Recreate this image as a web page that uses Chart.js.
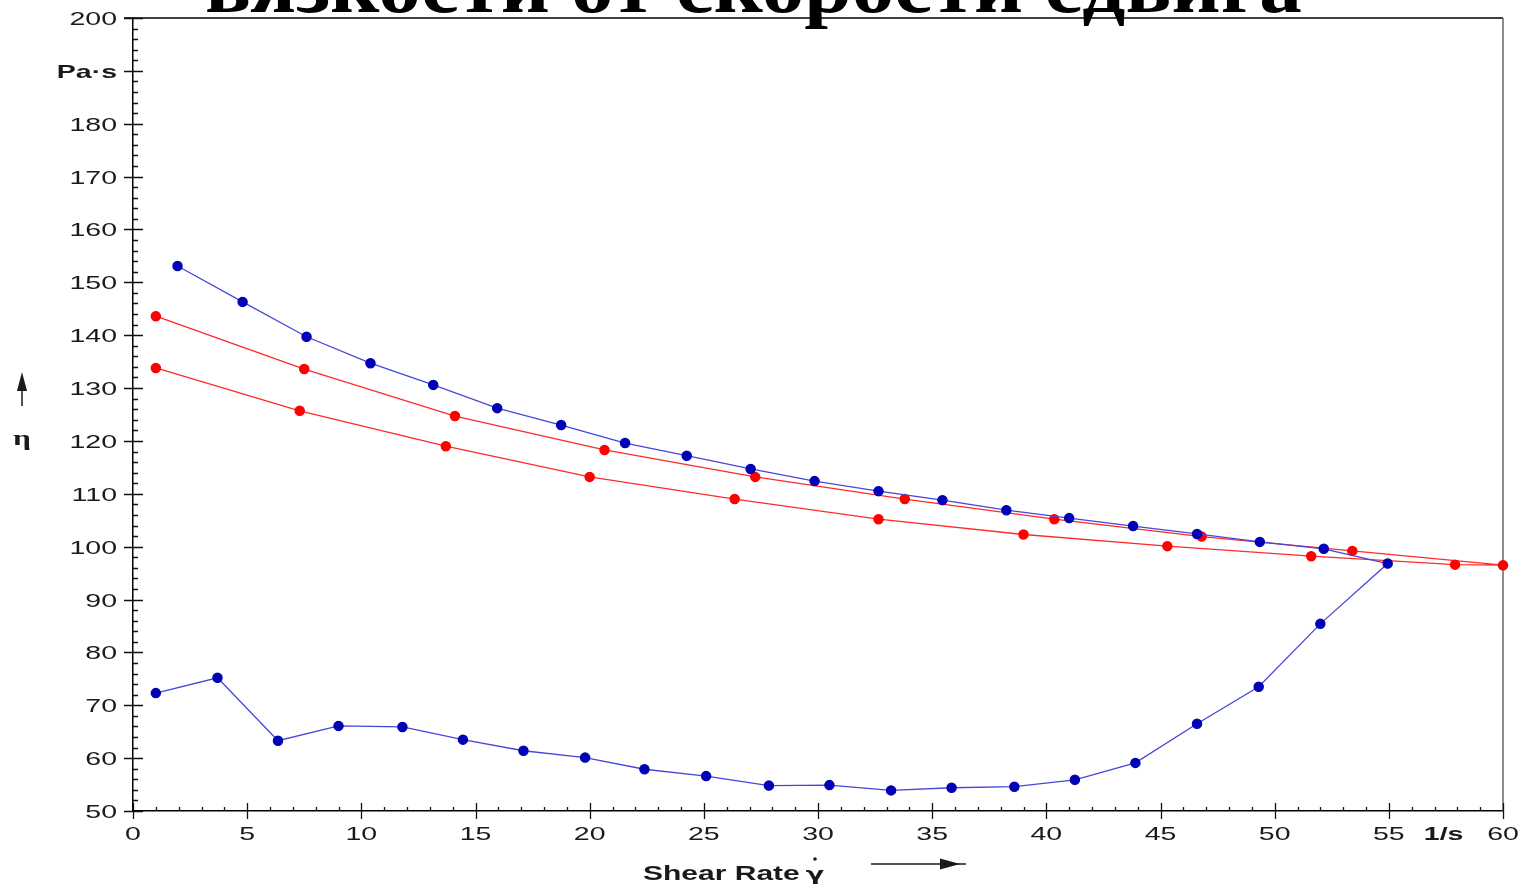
<!DOCTYPE html>
<html>
<head>
<meta charset="utf-8">
<script src="https://cdn.jsdelivr.net/npm/chart.js@4"></script>
<style>
  html, body { margin: 0; padding: 0; background: #fff; }
  canvas { display: block; }
</style>
</head>
<body>
<canvas id="viscosity" width="1526" height="885"></canvas>
<script>
// blue loop: up-curve (low) then down-curve (high)
const blueX = [1.0, 3.7, 6.35, 9.0, 11.8, 14.45, 17.1, 19.8, 22.4, 25.1, 27.85, 30.5, 33.2, 35.85, 38.6, 41.25, 43.9, 46.6, 49.3, 52.0, 54.95,
               52.15, 49.35, 46.6, 43.8, 41.0, 38.25, 35.45, 32.65, 29.85, 27.05, 24.25, 21.55, 18.75, 15.95, 13.15, 10.4, 7.6, 4.8, 1.95];
const blueY = [72.3, 75.2, 63.3, 66.1, 65.9, 63.5, 61.4, 60.1, 57.9, 56.6, 54.8, 54.9, 53.9, 54.4, 54.6, 55.9, 59.1, 66.5, 73.5, 85.4, 96.8,
               99.6, 100.9, 102.4, 103.9, 105.4, 106.9, 108.8, 110.5, 112.4, 114.7, 117.2, 119.6, 123.0, 126.2, 130.6, 134.7, 139.7, 146.3, 153.1];

// red loop
const redX = [1.0, 7.3, 13.7, 20.0, 26.35, 32.65, 39.0, 45.3, 51.6, 57.9, 60.0,
              53.4, 46.8, 40.35, 33.8, 27.25, 20.65, 14.1, 7.5, 1.0];
const redY = [133.8, 125.7, 119.0, 113.2, 109.0, 105.2, 102.3, 100.1, 98.2, 96.6, 96.5,
              99.2, 101.9, 105.2, 109.0, 113.2, 118.3, 124.7, 133.6, 143.6];

const xTicks = [0, 5, 10, 15, 20, 25, 30, 35, 40, 45, 50, 55, 60];
const yTicks = [50, 60, 70, 80, 90, 100, 110, 120, 130, 140, 150, 160, 170, 180, 190, 200];
const yTickLabels = ['50', '60', '70', '80', '90', '100', '110', '120', '130', '140', '150', '160', '170', '180', 'Pa·s', '200'];

const titleText = 'вязкости от скорости сдвига';
const xTitle = 'Shear Rate';
const xUnit = '1/s';
const yTitle = 'η';

const STRETCH = 1.5;
const INK = '#1a1a1a';

function wideText(ctx, text, x, y, align, font) {
  ctx.save();
  ctx.font = font;
  ctx.fillStyle = INK;
  ctx.textBaseline = 'alphabetic';
  ctx.textAlign = 'left';
  const w = ctx.measureText(text).width * STRETCH;
  let left = x;
  if (align === 'center') left = x - w / 2;
  if (align === 'right') left = x - w;
  ctx.translate(left, y);
  ctx.scale(STRETCH, 1);
  ctx.fillText(text, 0, 0);
  ctx.restore();
}

const frame = {
  id: 'frame',
  beforeDatasetsDraw(chart) {
    const ctx = chart.ctx;
    const a = chart.chartArea;
    const xs = chart.scales.x, ys = chart.scales.y;
    ctx.save();
    // top + right frame
    ctx.lineWidth = 1.5;
    ctx.strokeStyle = '#000';
    ctx.beginPath();
    ctx.moveTo(a.left - 9, a.top);
    ctx.lineTo(a.right, a.top);
    ctx.stroke();
    ctx.strokeStyle = '#666';
    ctx.beginPath();
    ctx.moveTo(a.right, a.top);
    ctx.lineTo(a.right, a.bottom);
    ctx.stroke();

    ctx.strokeStyle = '#111';
    ctx.lineWidth = 1.3;
    ctx.beginPath();
    // y ticks: minor every 2, major every 10
    for (let v = ys.min; v <= ys.max; v += 2) {
      const py = Math.round(ys.getPixelForValue(v)) + 0.5;
      if (v % 10 === 0) {
        ctx.moveTo(a.left - 9, py); ctx.lineTo(a.left + 10, py);
      } else {
        ctx.moveTo(a.left, py); ctx.lineTo(a.left + 5, py);
      }
    }
    // x ticks: minor every 1, major every 5
    for (let v = xs.min; v <= xs.max; v += 1) {
      const px = Math.round(xs.getPixelForValue(v)) + 0.5;
      if (v % 5 === 0) {
        ctx.moveTo(px, a.bottom + 8); ctx.lineTo(px, a.bottom - 8);
      } else {
        ctx.moveTo(px, a.bottom); ctx.lineTo(px, a.bottom - 4);
      }
    }
    ctx.stroke();
    ctx.restore();
  },
  afterDraw(chart) {
    const ctx = chart.ctx;
    const a = chart.chartArea;
    const xs = chart.scales.x, ys = chart.scales.y;
    const tickFont = '19px "Liberation Sans", Arial, sans-serif';
    const boldFont = 'bold 19px "Liberation Sans", Arial, sans-serif';

    yTicks.forEach((v, i) => {
      const lbl = yTickLabels[i];
      const font = isNaN(Number(lbl)) ? boldFont : tickFont;
      wideText(ctx, lbl, a.left - 16, ys.getPixelForValue(v) + 7, 'right', font);
    });
    xTicks.forEach(v => {
      wideText(ctx, String(v), xs.getPixelForValue(v), 840, 'center', tickFont);
    });
    wideText(ctx, xUnit, xs.getPixelForValue(57.4), 840, 'center', boldFont);

    // x axis title with gamma-dot
    wideText(ctx, xTitle, 643, 880, 'left', 'bold 20px "Liberation Sans", Arial, sans-serif');
    wideText(ctx, 'γ', 815, 880, 'center', 'bold 18px "DejaVu Sans", sans-serif');
    ctx.save();
    ctx.fillStyle = INK;
    ctx.beginPath();
    ctx.arc(815, 859, 1.8, 0, Math.PI * 2);
    ctx.fill();
    // right arrow
    ctx.strokeStyle = INK;
    ctx.lineWidth = 1.5;
    ctx.beginPath();
    ctx.moveTo(871, 864); ctx.lineTo(966, 864);
    ctx.stroke();
    ctx.beginPath();
    ctx.moveTo(940, 858.5); ctx.lineTo(960, 864); ctx.lineTo(940, 869.5); ctx.closePath();
    ctx.fill();
    // up arrow
    ctx.beginPath();
    ctx.moveTo(22, 406); ctx.lineTo(22, 385);
    ctx.stroke();
    ctx.beginPath();
    ctx.moveTo(17, 391); ctx.lineTo(22, 372); ctx.lineTo(27, 391); ctx.closePath();
    ctx.fill();
    ctx.restore();
    wideText(ctx, yTitle, 22, 445, 'center', 'bold 21px "Liberation Serif", serif');

    // clipped headline above the plot
    ctx.save();
    ctx.font = 'bold 60px "Liberation Serif", "Times New Roman", serif';
    const w = ctx.measureText(titleText).width;
    const sx = 1097 / w;
    ctx.fillStyle = '#000';
    ctx.textBaseline = 'alphabetic';
    ctx.translate(205, 12);
    ctx.scale(sx, 1.35);
    ctx.fillText(titleText, 0, 0);
    ctx.restore();
  }
};

const ctx = document.getElementById('viscosity').getContext('2d');
const chart = new Chart(ctx, {
  type: 'line',
  data: {
    datasets: [{
      label: 'blue',
      data: blueX.map((x, i) => ({ x: x, y: blueY[i] })),
      borderColor: '#4646dc',
      backgroundColor: '#0000b4',
      pointBackgroundColor: '#0000b4',
      pointBorderColor: '#0000b4',
      pointRadius: 4.6,
      borderWidth: 1.3,
      tension: 0,
      clip: false
    }, {
      label: 'red',
      data: redX.map((x, i) => ({ x: x, y: redY[i] })),
      borderColor: '#ff2a2a',
      backgroundColor: '#ff0000',
      pointBackgroundColor: '#ff0000',
      pointBorderColor: '#ff0000',
      pointRadius: 4.6,
      borderWidth: 1.3,
      tension: 0,
      clip: false
    }]
  },
  options: {
    responsive: false,
    animation: false,
    devicePixelRatio: 1,
    layout: { padding: { top: 18, right: 23, left: 0, bottom: 0 } },
    plugins: { legend: { display: false }, tooltip: { enabled: false } },
    scales: {
      x: {
        type: 'linear', min: 0, max: 60,
        ticks: { display: false },
        grid: { display: false },
        border: { display: true, color: '#000', width: 1.5 },
        afterFit: s => { s.height = 74; }
      },
      y: {
        type: 'linear', min: 50, max: 200,
        ticks: { display: false },
        grid: { display: false },
        border: { display: true, color: '#000', width: 1.5 },
        afterFit: s => { s.width = 133; }
      }
    }
  },
  plugins: [frame]
});
</script>
</body>
</html>
